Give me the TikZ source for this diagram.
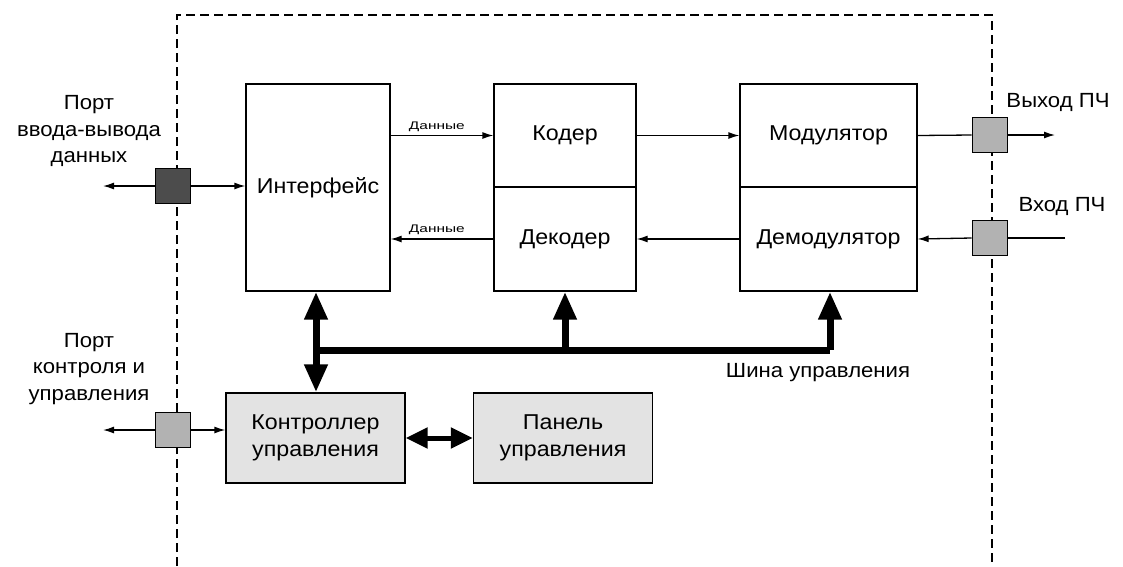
\documentclass[tikz,border=0pt]{standalone}
\usepackage{fontspec}
\setmainfont{Liberation Sans}[FakeStretch=1.08]
\usetikzlibrary{arrows.meta}
\begin{document}
\begin{tikzpicture}[x=1pt,y=-1pt,
  blk/.style={draw, line width=1.3pt, inner sep=0pt, align=center, font=\fontsize{21.5}{27}\selectfont},
  ctl/.style={blk, fill=gray!22, minimum width=179pt, minimum height=90pt},
  port/.style={draw, line width=1.6pt, fill=gray!60, minimum size=35pt, inner sep=0pt},
  lbl/.style={align=center, font=\fontsize{20.5}{26.5}\selectfont},
  sml/.style={font=\fontsize{11}{12}\selectfont},
  sig/.style={-{Latex[length=11pt,width=7pt]}, line width=1.3pt},
  wire/.style={line width=1.3pt},
  bus/.style={line width=7pt},
  busarr/.style={-{Triangle[length=28pt,width=22pt]}, line width=7pt},
  frame/.style={dashed, dash pattern=on 9pt off 5pt, line width=1.3pt}]
\useasboundingbox (0,0) rectangle (1123,566);
% frame
\draw[frame] (177,566) -- (177,15) -- (992,15) -- (992,566);
% blocks
\node[blk, minimum width=144pt, minimum height=207pt] (iface) at (318,187.5) {Интерфейс};
\node[blk, minimum width=142pt, minimum height=103pt] (coder) at (565,135.5) {Кодер};
\node[blk, minimum width=142pt, minimum height=104pt] (decoder) at (565,239) {Декодер};
\node[blk, minimum width=177pt, minimum height=103pt] (mod) at (828.5,135.5) {Модулятор};
\node[blk, minimum width=177pt, minimum height=104pt] (demod) at (828.5,239) {Демодулятор};
\node[ctl] (ctrl) at (315.5,438) {Контроллер\\управления};
\node[ctl] (panel) at (563,438) {Панель\\управления};
% ports
\node[port, fill=black!70] (pio) at (173,186) {};
\node[port] (pctl) at (173,430) {};
\node[port] (pout) at (990,135) {};
\node[port] (pin) at (990,238) {};
% labels
\node[lbl] (lio) at (89,131) {Порт\\ввода-вывода\\данных};
\node[lbl] (lctl) at (89,369) {Порт\\контроля и\\управления};
\node[lbl] (lout) at (1058,102) {Выход ПЧ};
\node[lbl] (lin) at (1062,206) {Вход ПЧ};
\node[lbl] (lbus) at (818,373) {Шина управления};
% coordinates
\coordinate (pioL) at (103,186);
\coordinate (pctlL) at (103,430);
\coordinate (poutR) at (1055,135);
\coordinate (pinR) at (1065,238);
\coordinate (busL) at (316,350);
\coordinate (busR) at (830,350);
% signal arrows
\draw[sig] (pio.west) -- (pioL);
\draw[sig] (pio.east) -- (iface.west |- pio);
\draw[sig] (iface.east |- coder) -- node[sml, above, pos=0.45] (d1) {\scalebox{1.3}[1]{Данные}} (coder.west);
\draw[sig] (decoder.west) -- node[sml, above, pos=0.55] (d2) {\scalebox{1.3}[1]{Данные}} (iface.east |- decoder);
\draw[sig] (coder.east) -- (mod.west);
\draw[sig] (demod.west) -- (decoder.east);
\draw[wire] (mod.east) -- (pout.west);
\draw[sig] (pout.east) -- (poutR);
\draw[wire] (pinR) -- (pin.east);
\draw[sig] (pin.west) -- (demod.east);
\draw[sig] (pctl.west) -- (pctlL);
\draw[sig] (pctl.east) -- (ctrl.west |- pctl);
% bus
\draw[bus] (busL) -- (busR);
\draw[busarr] (busL) -- (busL |- iface.south);
\draw[busarr] (busL) -- (busL |- ctrl.north);
\draw[busarr] (decoder.south |- busL) -- (decoder.south);
\draw[busarr] (busR) -- (busR |- demod.south);
\draw[{Triangle[length=22pt,width=20pt]}-{Triangle[length=22pt,width=20pt]}, line width=5pt] (ctrl.east) -- (panel.west);
\end{tikzpicture}
\end{document}
